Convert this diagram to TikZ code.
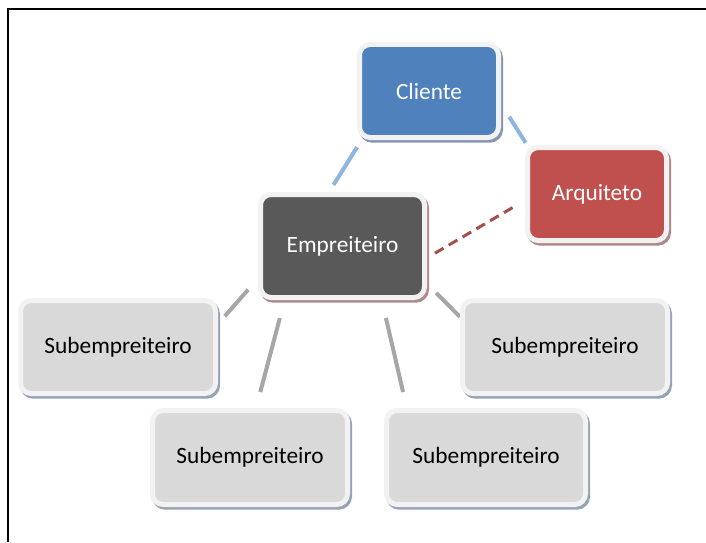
\documentclass[tikz,border=0pt]{standalone}
\usepackage{fontspec}
\setmainfont{Carlito}
\usetikzlibrary{backgrounds}

\definecolor{rim}{HTML}{F2F2F2}
\definecolor{cblue}{HTML}{4F81BD}
\definecolor{cred}{HTML}{C0504D}
\definecolor{cdark}{HTML}{595959}
\definecolor{cgray}{HTML}{D9D9D9}
\definecolor{shblue}{HTML}{8597B0}
\definecolor{shred}{HTML}{B08A8A}
\definecolor{shgray}{HTML}{95A3B5}
\definecolor{lblue}{HTML}{8DB4E2}
\definecolor{lgray}{HTML}{A6A6A6}
\definecolor{ldash}{HTML}{A3504D}

\tikzset{
  box/.style={rectangle, rounded corners=8pt, draw=rim, line width=3.75pt,
    inner sep=0pt, font=\fontsize{17.5}{21}\selectfont,
    preaction={draw=#1, fill=#1, transform canvas={shift={(1.5pt,-2pt)}}}},
  clientebox/.style={box=shblue, fill=cblue, text=white,
    minimum width=104.25pt, minimum height=69.75pt},
  arqbox/.style={box=shred, fill=cred, text=white,
    minimum width=104.25pt, minimum height=69.75pt},
  empbox/.style={box=shred, fill=cdark, text=white,
    minimum width=123pt, minimum height=77.25pt},
  subbox/.style={box=shgray, fill=cgray, text=black, minimum height=69.75pt},
  blueline/.style={draw=lblue, line width=3pt},
  grayline/.style={draw=lgray, line width=3pt},
  dashline/.style={draw=ldash, line width=2.25pt, dash pattern=on 7.5pt off 4.5pt},
}

\begin{document}
\begin{tikzpicture}[x=0.75pt, y=-0.75pt]
  \useasboundingbox (0,0) rectangle (706,542);

  % frame
  \draw[line width=1.5pt, line join=miter] (8,542) -- (8,9) -- (706,9);

  % roles
  \node[clientebox] (cli) at (429,91) {Cliente};
  \node[arqbox] (arq) at (597,194) {Arquiteto};
  \node[empbox] (emp) at (342.5,246) {Empreiteiro};
  \node[subbox, minimum width=146.25pt] (sub1) at (118,347) {Subempreiteiro};
  \node[subbox, minimum width=146.25pt, minimum height=70.5pt] (sub2) at (250,457.5) {Subempreiteiro};
  \node[subbox, minimum width=153.75pt] (sub3) at (565,347) {Subempreiteiro};
  \node[subbox, minimum width=149.25pt, minimum height=70.5pt] (sub4) at (486,457.5) {Subempreiteiro};

  % links between the roles, kept behind the boxes
  \begin{pgfonlayer}{background}
    \fill[white] (0,0) rectangle (706,542);
    \draw[blueline, shorten <=6.3pt, shorten >=6.3pt] (cli.216.4) -- (emp.104.6);
    \draw[blueline, shorten <=11.6pt, shorten >=2pt] (cli.350) -- (arq.145.6);
    \draw[dashline, shorten <=6.9pt, shorten >=8.6pt] (emp.352.9) -- (arq.185.9);
    \draw[grayline, shorten <=11.2pt, shorten >=7.7pt] (emp.201.9) -- (sub1.13.2);
    \draw[grayline, shorten <=14pt, shorten >=12.4pt] (emp.223.2) -- (sub2.83.4);
    \draw[grayline, shorten <=13.8pt, shorten >=12.3pt] (emp.306.9) -- (sub4.148.1);
    \draw[grayline, shorten <=9.8pt] (emp.336.6) -- (sub3.164);
  \end{pgfonlayer}
\end{tikzpicture}
\end{document}
